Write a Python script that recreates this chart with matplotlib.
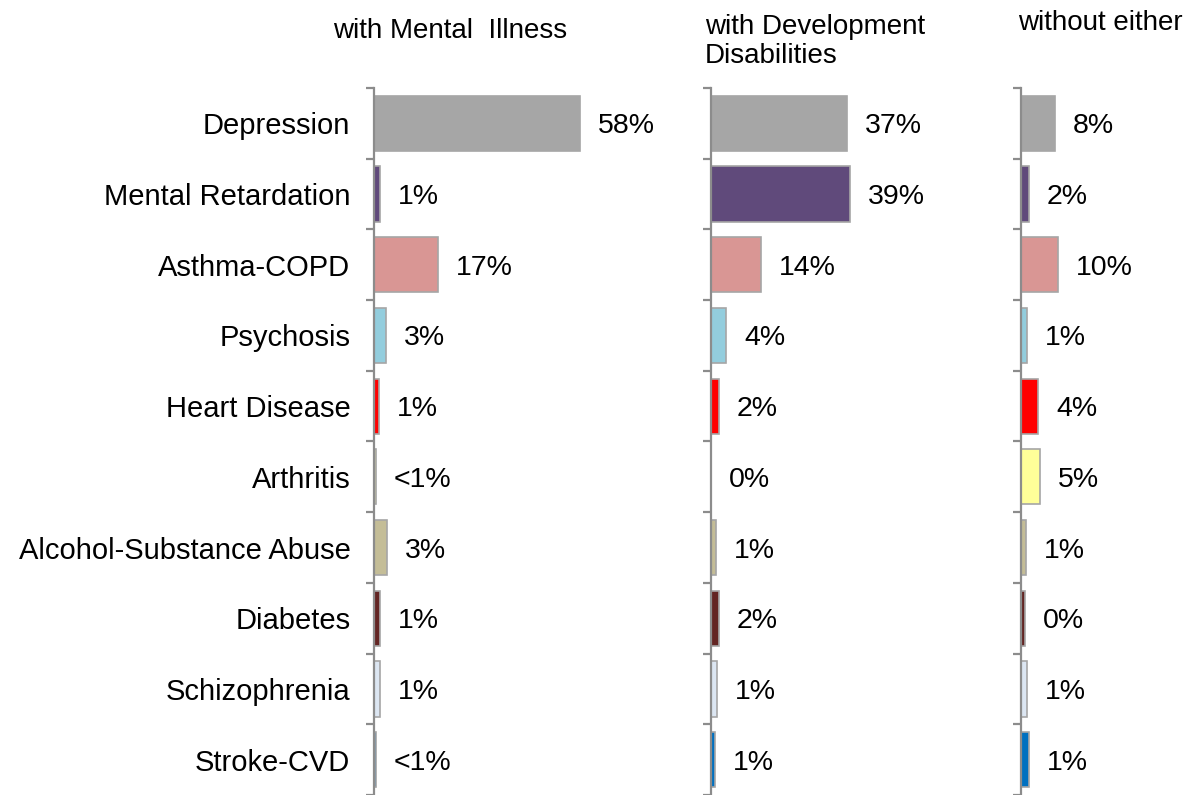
import numpy as np
import matplotlib
matplotlib.use('Agg')
import matplotlib.pyplot as plt

plt.rcParams['font.family'] = ['Liberation Sans', 'DejaVu Sans']

categories = ['Depression', 'Mental Retardation', 'Asthma-COPD', 'Psychosis',
              'Heart Disease', 'Arthritis', 'Alcohol-Substance Abuse', 'Diabetes',
              'Schizophrenia', 'Stroke-CVD']
colors = ['#a6a6a6', '#604a7b', '#d99694', '#93cddd', '#ff0000',
          '#ffff99', '#c4bd97', '#632523', '#dce6f2', '#0070c0']

titles = ['with Mental  Illness', 'with Development\nDisabilities', 'without either']

# bar lengths (percent)
mental_vals = [57.2, 1.7, 17.8, 3.3, 1.4, 0.5, 3.6, 1.7, 1.7, 0.5]
devel_vals = [37.8, 38.6, 13.9, 4.2, 2.2, 0.0, 1.4, 2.2, 1.7, 1.1]
neither_vals = [9.4, 2.2, 10.3, 1.7, 4.7, 5.3, 1.4, 1.1, 1.7, 2.2]

mental_labels = ['58%', '1%', '17%', '3%', '1%', '<1%', '3%', '1%', '1%', '<1%']
devel_labels = ['37%', '39%', '14%', '4%', '2%', '0%', '1%', '2%', '1%', '1%']
neither_labels = ['8%', '2%', '10%', '1%', '4%', '5%', '1%', '0%', '1%', '1%']

W, H = 1196, 795
SCALE = 3.6  # pixels per percent
fig = plt.figure(figsize=(W / 100, H / 100), dpi=100)

panels = [
    (374, 680, mental_vals, mental_labels, 333, 38),
    (711, 1000, devel_vals, devel_labels, 705, 63),
    (1021, 1196, neither_vals, neither_labels, 1018, 30),
]
top, bottom = 88, 795
n = len(categories)
axis_col = '#8c8c8c'

for k, (left, right, vals, labels, tx, ty) in enumerate(panels):
    ax = fig.add_axes([left / W, 1 - bottom / H, (right - left) / W, (bottom - top) / H])
    y = np.arange(n)
    ax.barh(y, vals, height=0.78, color=colors, edgecolor='#a6a6a6', linewidth=1.2)
    ax.set_xlim(0, (right - left) / SCALE)
    ax.set_ylim(n - 0.5, -0.5)
    for s in ['top', 'right', 'bottom']:
        ax.spines[s].set_visible(False)
    ax.spines['left'].set_color(axis_col)
    ax.spines['left'].set_linewidth(1.6)
    ax.set_xticks([])
    ax.set_yticks(y)
    ax.set_yticks(np.arange(-0.5, n, 1), minor=True)
    ax.tick_params(axis='y', which='major', length=0, pad=17)
    ax.tick_params(axis='y', which='minor', length=5.8, width=1.6, color=axis_col)
    if k == 0:
        ax.set_yticklabels(categories, fontsize=21, va='center_baseline')
    else:
        ax.set_yticklabels([])
    for i, (v, lbl) in enumerate(zip(vals, labels)):
        ax.annotate(lbl, (v, i), xytext=(13, 0), textcoords='offset points',
                    va='center_baseline', ha='left', fontsize=20.5)
    fig.text(tx / W, 1 - ty / H, titles[k], fontsize=20, ha='left', va='baseline',
             linespacing=1.15)

fig.savefig('out.png', dpi=100)
